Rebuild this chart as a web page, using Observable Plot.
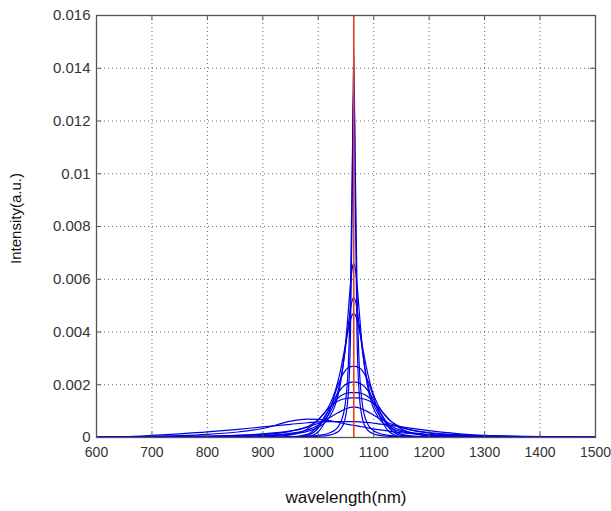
<!DOCTYPE html>
<html>
<head>
<meta charset="utf-8">
<script src="https://cdn.jsdelivr.net/npm/d3@7"></script>
<script src="https://cdn.jsdelivr.net/npm/@observablehq/plot@0.6"></script>
<style>
  html, body { margin: 0; padding: 0; background: #fff; }
</style>
</head>
<body>
<div id="chart"></div>
<script>
// wavelength sampling (nm)
const wavelengths = [600,650,700,750,800,850,900,950,980,1000,1020,1030,1040,1048,1054,1058,1061,1064,1067,1070,1074,1080,1088,1098,1108,1128,1150,1200,1250,1300,1350,1400,1450,1500];

// intensity (a.u.) of each spectrum
const specA1 = [0.0000008,0.000001,0.0000014,0.0000018,0.0000026,0.000004,0.0000067,0.000014,0.000026,0.000044,0.000093,0.000155,0.00031,0.00068,0.00162,0.00376,0.00853,0.0148,0.00853,0.00376,0.00162,0.00068,0.00031,0.000155,0.000093,0.000044,0.000025,0.00001,0.0000052,0.0000033,0.0000022,0.0000016,0.0000012,0.000001];
const specA2 = [0.0000016,0.000002,0.0000025,0.0000034,0.0000048,0.0000073,0.000012,0.000026,0.000047,0.000081,0.000171,0.000284,0.00056,0.00119,0.00268,0.00549,0.00985,0.0134,0.00985,0.00549,0.00268,0.00119,0.00056,0.000284,0.000171,0.000081,0.000045,0.000018,0.0000097,0.000006,0.0000041,0.000003,0.0000022,0.0000018];
const specB = [0.0000078,0.0000098,0.0000127,0.0000171,0.0000242,0.0000367,0.0000623,0.000127,0.000231,0.000388,0.00077,0.0012,0.00203,0.0033,0.00475,0.00579,0.00638,0.0066,0.00638,0.00579,0.00475,0.0033,0.00203,0.0012,0.00077,0.000388,0.000221,0.00009,0.0000485,0.00003,0.0000206,0.0000149,0.0000113,0.0000089];
const specC = [0.0000098,0.0000123,0.000016,0.0000214,0.0000302,0.0000459,0.0000777,0.000158,0.000284,0.000472,0.000908,0.00136,0.00217,0.00323,0.00424,0.00486,0.00518,0.0053,0.00518,0.00486,0.00424,0.00323,0.00217,0.00136,0.000908,0.000472,0.000272,0.000112,0.0000606,0.0000378,0.0000258,0.0000187,0.0000142,0.0000111];
const specD = [0.0000147,0.0000185,0.0000239,0.000032,0.0000452,0.0000684,0.000115,0.000233,0.000411,0.000666,0.00122,0.00173,0.00254,0.00341,0.00409,0.00446,0.00464,0.0047,0.00464,0.00446,0.00409,0.00341,0.00254,0.00173,0.00122,0.000666,0.000394,0.000166,0.00009,0.0000564,0.0000385,0.000028,0.0000213,0.0000167];
const specE = [0,0,0,0,0,0,0,0,0.00003,0.00022,0.00098,0.00165,0.00222,0.00252,0.00264,0.00268,0.0027,0.0027,0.0027,0.00268,0.00264,0.00252,0.00222,0.00165,0.00098,0.00022,0.00003,0,0,0,0,0,0,0];
const specF = [0,0,0,0,0,0,0,0.00001,0.00008,0.00036,0.00108,0.0015,0.00182,0.00199,0.00206,0.00209,0.0021,0.0021,0.0021,0.00209,0.00206,0.00199,0.00182,0.0015,0.00108,0.00036,0.00008,0.000005,0,0,0,0,0,0];
const specG = [0,0,0,0,0,0,0,0.00002,0.00012,0.00045,0.00108,0.00137,0.00157,0.00166,0.00169,0.0017,0.0017,0.0017,0.0017,0.0017,0.00169,0.00166,0.00157,0.00137,0.00108,0.00045,0.00012,0.00002,0,0,0,0,0,0];
const specH = [0,0,0,0,0,0,0.00002,0.0001,0.00032,0.00068,0.00114,0.00131,0.00142,0.00147,0.00149,0.0015,0.0015,0.0015,0.0015,0.0015,0.00149,0.00147,0.00142,0.00131,0.00114,0.00068,0.00032,0.00005,0.00001,0,0,0,0,0];
const specI = [0.0000189,0.0000237,0.0000304,0.0000405,0.0000565,0.0000838,0.000136,0.000249,0.000389,0.000538,0.000748,0.00087,0.00099,0.00107,0.00112,0.00114,0.00115,0.00115,0.00115,0.00114,0.00112,0.00107,0.00099,0.00087,0.000748,0.000538,0.000377,0.000187,0.000108,0.0000698,0.0000485,0.0000355,0.0000271,0.0000214];
const specJ1 = [0.000005,0.00003,0.00008,0.00014,0.00021,0.0003,0.0004,0.0005,0.00056,0.00059,0.0006,0.0006,0.0006,0.0006,0.0006,0.0006,0.0006,0.0006,0.0006,0.0006,0.00059,0.00058,0.00057,0.00055,0.00052,0.00047,0.0004,0.00026,0.00015,0.00008,0.00004,0.00002,0.000008,0.000002];
const specJ2 = [0.00001,0.00002,0.00004,0.00007,0.00012,0.0002,0.00034,0.00062,0.0007,0.00069,0.00064,0.0006,0.00056,0.00052,0.0005,0.00048,0.00047,0.00046,0.00045,0.00044,0.00042,0.0004,0.00037,0.00033,0.0003,0.00024,0.00018,0.0001,0.00006,0.00003,0.000015,0.000008,0.000004,0.000002];

const curveNames = ["A1","A2","B","C","D","E","F","G","H","I","J1","J2"];
const curveValues = [specA1,specA2,specB,specC,specD,specE,specF,specG,specH,specI,specJ1,specJ2];

const laserLine = [1064];
const xTicks = [600,700,800,900,1000,1100,1200,1300,1400,1500];
const yTicks = [0,0.002,0.004,0.006,0.008,0.01,0.012,0.014,0.016];
const xLabel = "wavelength(nm)";
const yLabel = "Intensity(a.u.)";

const table = curveNames.flatMap((name, k) =>
  wavelengths.map((w, i) => ({curve: name, wavelength: w, intensity: curveValues[k][i]}))
);

const W = 611, H = 511, mL = 96, mR = 16, mT = 15, mB = 74;
const innerW = W - mL - mR, innerH = H - mT - mB;
const tickLen = 5;
const axisColor = "#555";

const chart = Plot.plot({
  width: W, height: H,
  marginLeft: mL, marginRight: mR, marginTop: mT, marginBottom: mB,
  style: {fontFamily: "'Liberation Sans', Arial, sans-serif", fontSize: "15px", background: "#fff", color: "#333"},
  x: {domain: [600, 1500]},
  y: {domain: [0, 0.016]},
  marks: [
    Plot.gridX(xTicks, {stroke: "#000", strokeOpacity: 0.6, strokeDasharray: "1,3"}),
    Plot.gridY(yTicks, {stroke: "#000", strokeOpacity: 0.6, strokeDasharray: "1,3"}),
    Plot.line(table, {x: "wavelength", y: "intensity", z: "curve", stroke: "#0000e6", strokeWidth: 1.2, curve: "monotone-x"}),
    Plot.ruleX(laserLine, {stroke: "#e8401c", strokeWidth: 1.6}),
    Plot.ruleX(xTicks, {insetTop: innerH - tickLen, stroke: axisColor}),
    Plot.ruleX(xTicks, {insetBottom: innerH - tickLen, stroke: axisColor}),
    Plot.ruleY(yTicks, {insetRight: innerW - tickLen, stroke: axisColor}),
    Plot.ruleY(yTicks, {insetLeft: innerW - tickLen, stroke: axisColor}),
    Plot.frame({stroke: axisColor, strokeWidth: 1.3}),
    Plot.axisX(xTicks, {tickSize: 0, tickPadding: 10, label: null, tickFormat: d => String(d), fontSize: 14}),
    Plot.axisY(yTicks, {tickSize: 0, tickPadding: 6, label: null, tickFormat: d => String(d), fontSize: 15}),
    Plot.text([xLabel], {frameAnchor: "bottom", dy: 65, fontSize: 17, fill: "#111"}),
    Plot.text([yLabel], {frameAnchor: "left", textAnchor: "middle", dx: -80, dy: -8, rotate: -90, fontSize: 15, fill: "#111"})
  ]
});
document.getElementById("chart").appendChild(chart);
</script>
</body>
</html>
